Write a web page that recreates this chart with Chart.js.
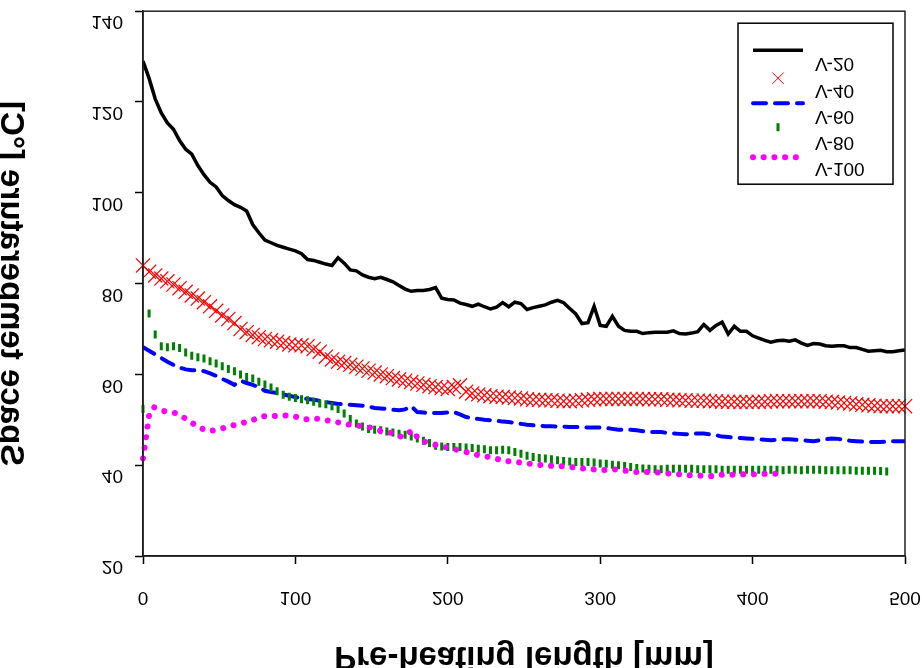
<!DOCTYPE html>
<html>
<head>
<meta charset="utf-8">
<script src="https://cdn.jsdelivr.net/npm/chart.js@4.4.0/dist/chart.umd.min.js"></script>
<style>
  html, body { margin: 0; padding: 0; background: #fff; }
  canvas { display: block; }
</style>
</head>
<body>
<canvas id="chart" width="922" height="668"></canvas>
<script>
// Space temperature along the pre-heating length, five V- runs
const xGrid = [
  0, 4, 8, 12, 16, 20, 24, 28, 32, 36,
  40, 44, 48, 52, 56, 60, 64, 68, 72, 76,
  80, 84, 88, 92, 96, 100, 104, 108, 112, 116,
  120, 124, 128, 132, 136, 140, 144, 148, 152, 156,
  160, 164, 168, 172, 176, 180, 184, 188, 192, 196,
  200, 204, 208, 212, 216, 220, 224, 228, 232, 236,
  240, 244, 248, 252, 256, 260, 264, 268, 272, 276,
  280, 284, 288, 292, 296, 300, 304, 308, 312, 316,
  320, 324, 328, 332, 336, 340, 344, 348, 352, 356,
  360, 364, 368, 372, 376, 380, 384, 388, 392, 396,
  400, 404, 408, 412, 416, 420, 424, 428, 432, 436,
  440, 444, 448, 452, 456, 460, 464, 468, 472, 476,
  480, 484, 488, 492, 496, 500
];

const v20 = [
  129.0, 125.2, 120.7, 117.6, 115.4, 114.0, 111.5, 109.6, 108.5, 106.0,
  104.0, 102.3, 101.3, 99.4, 98.3, 97.4, 96.8, 96.0, 93.0, 91.2,
  89.6, 89.0, 88.4, 88.0, 87.6, 87.2, 86.6, 85.3, 85.1, 84.7,
  84.3, 84.0, 85.7, 84.5, 83.0, 82.8, 81.9, 81.4, 81.1, 81.4,
  80.9, 80.4, 79.6, 78.8, 78.3, 78.5, 78.5, 78.7, 79.1, 76.8,
  76.5, 76.4, 75.7, 75.4, 75.0, 75.5, 74.9, 74.4, 74.8, 75.8,
  74.9, 75.9, 75.6, 74.3, 74.7, 75.0, 75.3, 75.9, 76.3, 75.8,
  74.5, 73.3, 71.2, 71.4, 75.0, 70.8, 70.6, 72.8, 70.6, 69.7,
  69.5, 69.5, 69.0, 69.2, 69.3, 69.3, 69.3, 69.6, 69.0, 68.9,
  69.1, 69.4, 71.0, 69.7, 70.8, 71.5, 68.9, 70.6, 69.5, 69.5,
  68.5, 68.0, 67.5, 67.1, 67.4, 67.5, 67.3, 67.6, 66.9, 66.4,
  66.8, 66.7, 66.3, 66.2, 66.3, 66.3, 65.9, 65.9, 65.5, 65.1,
  65.2, 65.3, 65.0, 65.0, 65.2, 65.4
];

const v40 = [
  84.0, 82.6, 81.8, 81.1, 80.5, 79.8, 79.0, 78.2, 77.4, 76.7,
  75.9, 75.0, 74.0, 73.0, 72.2, 71.3, 70.0, 69.3, 68.7, 68.2,
  67.8, 67.5, 67.2, 66.9, 66.6, 66.4, 66.4, 66.2, 65.6, 65.0,
  63.9, 63.3, 62.8, 62.5, 62.1, 61.7, 61.3, 60.8, 60.4, 60.0,
  59.6, 59.2, 58.9, 58.6, 58.3, 58.0, 57.7, 57.4, 57.2, 57.0,
  56.8, 57.2, 57.6, 56.2, 55.8, 55.6, 55.4, 55.2, 55.1, 55.0,
  54.9, 54.8, 54.7, 54.5, 54.4, 54.4, 54.3, 54.3, 54.2, 54.1,
  54.1, 54.2, 54.3, 54.4, 54.5, 54.6, 54.6, 54.6, 54.6, 54.6,
  54.6, 54.6, 54.6, 54.5, 54.5, 54.5, 54.4, 54.4, 54.3, 54.3,
  54.2, 54.2, 54.2, 54.1, 54.1, 54.0, 54.0, 54.0, 53.9, 53.9,
  53.9, 54.0, 54.0, 54.1, 54.1, 54.1, 54.1, 54.1, 54.1, 54.1,
  54.1, 54.1, 54.0, 53.9, 53.8, 53.7, 53.6, 53.4, 53.3, 53.2,
  53.1, 53.0, 53.0, 53.0, 53.0, 53.0
];

const v60 = [
  66.0, 65.2, 64.4, 63.6, 62.8, 62.1, 61.5, 61.1, 60.9, 60.9,
  60.7, 60.2, 59.7, 59.0, 58.4, 57.7, 58.6, 58.1, 57.7, 57.2,
  56.4, 56.1, 55.9, 55.6, 55.3, 55.0, 54.8, 54.6, 54.4, 54.2,
  53.9, 53.7, 53.5, 53.4, 53.3, 53.2, 53.1, 52.9, 52.6, 52.5,
  52.4, 52.2, 52.1, 52.3, 53.0, 51.7, 51.6, 51.5, 51.5, 51.5,
  51.6, 51.7, 51.2, 50.6, 50.4, 50.2, 50.0, 49.9, 49.8, 49.6,
  49.5, 49.3, 49.1, 48.9, 48.8, 48.7, 48.6, 48.6, 48.5, 48.5,
  48.4, 48.4, 48.4, 48.3, 48.3, 48.3, 48.2, 48.0, 47.8, 47.8,
  47.8, 47.7, 47.5, 47.3, 47.3, 47.3, 47.1, 47.0, 46.9, 46.8,
  46.9, 47.0, 47.0, 46.8, 46.6, 46.3, 46.2, 46.1, 46.0, 45.9,
  45.8, 45.7, 45.6, 45.5, 45.6, 45.7, 45.7, 45.6, 45.5, 45.4,
  45.3, 45.5, 45.7, 45.9, 45.8, 45.6, 45.4, 45.3, 45.2, 45.1,
  45.1, 45.1, 45.2, 45.3, 45.3, 45.3
];

const v80 = [
  52.4, 73.4, 68.8, 66.2, 66.0, 66.2, 65.8, 64.8, 64.1, 63.8,
  63.5, 62.9, 62.4, 61.8, 61.2, 60.7, 60.0, 59.4, 59.1, 58.4,
  57.8, 57.1, 56.3, 55.5, 55.1, 54.8, 54.5, 54.3, 54.0, 53.6,
  53.4, 53.0, 52.4, 51.4, 50.2, 49.2, 48.5, 48.0, 47.8, 47.7,
  47.4, 47.2, 46.9, 46.7, 46.3, 45.9, 45.4, 44.9, 44.3, 44.1,
  44.0, 44.0, 44.0, 43.9, 43.8, 43.6, 43.5, 43.3, 43.3, 43.4,
  43.3, 42.9, 42.5, 42.1, 41.8, 41.6, 41.5, 41.3, 41.1, 40.9,
  40.8, 40.7, 40.7, 40.7, 40.6, 40.4, 40.3, 40.1, 40.0, 39.8,
  39.6, 39.4, 39.3, 39.2, 39.1, 39.1, 39.2, 39.2, 39.2, 39.2,
  39.2, 39.1, 39.1, 39.1, 39.1, 39.0, 39.0, 39.0, 39.0, 39.0,
  39.0, 39.0, 39.0, 39.0, 39.0, 38.9, 39.0, 39.0, 38.9, 39.0,
  39.0, 39.0, 38.9, 38.9, 38.9, 38.9, 38.9, 38.8, 38.8, 38.8,
  38.8, 38.7, 38.6, null, null, null
];

// V-100 was logged on its own, shorter grid
const xV100 = [
  0, 1, 2, 3, 4, 7, 14, 21, 29, 36,
  43, 50, 57, 64, 71, 78, 85, 92, 99, 106,
  113, 120, 127, 134, 141, 148, 155, 163, 170, 177,
  181, 188, 195, 202, 210, 217, 224, 231, 238, 245,
  252, 259, 266, 273, 280, 288, 295, 302, 309, 316,
  323, 330, 337, 344, 352, 359, 366, 373, 380, 387,
  394, 401, 408, 415
];
const v100 = [
  41.5, 43.8, 46.2, 48.6, 51.0, 52.8, 51.9, 51.5, 50.1, 48.4,
  47.5, 47.9, 48.6, 49.2, 49.8, 50.8, 50.8, 51.0, 50.8, 50.1,
  50.3, 49.9, 49.5, 49.0, 48.7, 48.4, 47.6, 47.1, 46.2, 47.7,
  45.6, 44.8, 44.2, 43.7, 43.1, 42.4, 42.0, 41.5, 40.9, 40.7,
  40.4, 40.1, 39.9, 39.8, 39.6, 39.3, 39.1, 38.9, 39.1, 38.8,
  38.5, 38.5, 38.4, 38.2, 38.0, 37.8, 37.7, 37.6, 37.9, 37.9,
  38.0, 38.0, 38.1, 38.1
];

const seriesLabels = ["V-20", "V-40", "V-60", "V-80", "V-100"];
const xTicks = [0, 100, 200, 300, 400, 500];
const yTicks = [20, 40, 60, 80, 100, 120, 140];

const pts = (xs, ys) => xs.map((x, i) => ({ x: x, y: ys[i] }));

const canvas = document.getElementById("chart");
const ctx = canvas.getContext("2d");

// every text in the reference is mirrored top-to-bottom about its lower edge
const rawFillText = ctx.fillText;
ctx.fillText = function (text, x, y, maxWidth) {
  const m = this.measureText(String(text));
  const axis = y + m.actualBoundingBoxDescent;
  this.save();
  this.translate(0, 2 * axis);
  this.scale(1, -1);
  if (maxWidth === undefined) rawFillText.call(this, text, x, y);
  else rawFillText.call(this, text, x, y, maxWidth);
  this.restore();
};

Chart.defaults.font.family = "'Liberation Sans', Arial, sans-serif";
Chart.defaults.color = "#000";

// box round the plot area (top and right edges)
const frame = {
  id: "frame",
  afterDatasetsDraw(chart) {
    const { ctx, chartArea: a } = chart;
    ctx.save();
    ctx.strokeStyle = "#222";
    ctx.lineWidth = 1.5;
    ctx.strokeRect(a.left, a.top, a.right - a.left, a.bottom - a.top);
    ctx.restore();
  },
};

// boxed legend in the upper right corner, symbols and labels as in the original
const legendBox = {
  id: "legendBox",
  afterDraw(chart) {
    const { ctx, chartArea } = chart;
    const left = chartArea.right - 167;
    const top = chartArea.top + 12;
    const symY = [27, 55, 80, 104, 134];
    ctx.save();
    ctx.fillStyle = "#fff";
    ctx.fillRect(left, top, 155, 161);
    ctx.strokeStyle = "#000";
    ctx.lineWidth = 1.5;
    ctx.strokeRect(left, top, 155, 161);

    chart.data.datasets.forEach((ds, i) => {
      const sy = top + symY[i];
      const cx = left + 40;
      ctx.save();
      ctx.strokeStyle = ds.borderColor;
      if (ds.showLine === false && ds.pointStyle === "crossRot") {
        const d = 5.7;
        ctx.lineWidth = 1;
        ctx.beginPath();
        ctx.moveTo(cx - d, sy - d);
        ctx.lineTo(cx + d, sy + d);
        ctx.moveTo(cx - d, sy + d);
        ctx.lineTo(cx + d, sy - d);
        ctx.stroke();
      } else if (ds.showLine === false) {
        ctx.lineWidth = 3;
        ctx.beginPath();
        ctx.moveTo(cx, sy - 4);
        ctx.lineTo(cx, sy + 4);
        ctx.stroke();
      } else {
        ctx.lineWidth = ds.borderWidth;
        ctx.lineCap = ds.borderCapStyle || "butt";
        ctx.setLineDash(ds.borderDash || []);
        ctx.beginPath();
        ctx.moveTo(left + 15, sy);
        ctx.lineTo(left + 65, sy);
        ctx.stroke();
      }
      ctx.restore();

      ctx.fillStyle = "#000";
      ctx.font = "19px 'Liberation Sans', Arial, sans-serif";
      ctx.textAlign = "left";
      ctx.textBaseline = "middle";
      ctx.fillText(ds.label, left + 77, top + 30 + i * 26.2);
    });
    ctx.restore();
  },
};

new Chart(ctx, {
  type: "line",
  data: {
    datasets: [
      {
        label: seriesLabels[0],
        data: pts(xGrid, v20),
        borderColor: "#000000",
        borderWidth: 3.5,
        pointRadius: 0,
        order: 5,
      },
      {
        label: seriesLabels[1],
        data: pts(xGrid, v40),
        showLine: false,
        borderColor: "#ff0000",
        pointStyle: "crossRot",
        pointRadius: 10,
        pointBorderWidth: 1.2,
        pointBorderColor: "#ff0000",
        clip: 12,
        order: 4,
      },
      {
        label: seriesLabels[2],
        data: pts(xGrid, v60),
        borderColor: "#0000ff",
        borderWidth: 4,
        borderDash: [13, 9],
        borderCapStyle: "round",
        pointRadius: 0,
        order: 3,
      },
      {
        label: seriesLabels[3],
        data: pts(xGrid, v80),
        showLine: false,
        borderColor: "#008000",
        pointStyle: "line",
        rotation: 90,
        pointRadius: 4,
        pointBorderWidth: 3,
        pointBorderColor: "#008000",
        clip: 6,
        order: 2,
      },
      {
        label: seriesLabels[4],
        data: pts(xV100, v100),
        borderColor: "#ff00ff",
        borderWidth: 6,
        borderDash: [0.01, 10.7],
        borderCapStyle: "round",
        pointRadius: 0,
        clip: 6,
        order: 1,
      },
    ],
  },
  options: {
    responsive: false,
    animation: false,
    devicePixelRatio: 1,
    layout: { padding: { top: 10, right: 17, left: 0, bottom: 0 } },
    plugins: {
      legend: { display: false },
      tooltip: { enabled: false },
    },
    scales: {
      x: {
        type: "linear",
        min: 0,
        max: 500,
        afterBuildTicks: (s) => { s.ticks = xTicks.map((v) => ({ value: v })); },
        afterFit: (s) => {
          s.height = 112;
          s.paddingLeft = 0;
          s.paddingRight = 0;
        },
        ticks: { color: "#000", font: { size: 19 }, padding: 11, maxRotation: 0 },
        grid: { drawOnChartArea: false, tickLength: 8, color: "#000", tickWidth: 1.5 },
        border: { color: "#000", width: 1.5 },
        title: {
          display: true,
          text: "Pre-heating length [mm]",
          color: "#000",
          font: { size: 33, weight: "bold" },
          padding: { top: 0, bottom: 24 },
        },
      },
      y: {
        min: 20,
        max: 140,
        afterBuildTicks: (s) => { s.ticks = yTicks.map((v) => ({ value: v })); },
        afterFit: (s) => {
          s.width = 143;
          s.paddingTop = 0;
          s.paddingBottom = 0;
        },
        ticks: { color: "#000", font: { size: 19 }, padding: 12 },
        grid: { drawOnChartArea: false, tickLength: 8, color: "#000", tickWidth: 1.5 },
        border: { color: "#000", width: 1.5 },
        title: {
          display: true,
          text: "Space temperature [°C]",
          color: "#000",
          font: { size: 33, weight: "bold" },
          padding: { top: -42, bottom: 0 },
        },
      },
    },
  },
  plugins: [frame, legendBox],
});
</script>
</body>
</html>
